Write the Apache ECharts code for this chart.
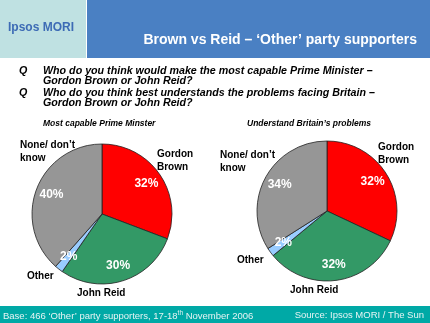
<!DOCTYPE html>
<html><head><meta charset="utf-8">
<style>html,body{margin:0;padding:0;background:#fff}#c{width:430px;height:323px}</style>
<script src="https://cdn.jsdelivr.net/npm/echarts@6/dist/echarts.min.js"></script>
</head><body><div id="c"></div>
<script>
const categories = ['Gordon Brown', 'John Reid', 'Other', 'None/ don\u2019t know'];
const capableValues = [32, 30, 2, 40];
const understandValues = [32, 32, 2, 34];
const sliceColors = ['#FF0000', '#339966', '#99CCFF', '#969696'];

const chart = echarts.init(document.getElementById('c'), null, {renderer: 'canvas'});
const FONT = '"Liberation Sans", Arial, sans-serif';

function mkData(vals) {
  return categories.map((n, i) => ({name: n, value: vals[i], itemStyle: {color: sliceColors[i]}}));
}
function pieMain(vals, center) {
  return {
    type: 'pie', center: center, radius: 70, startAngle: 90, clockwise: true,
    silent: true, animation: false,
    itemStyle: {borderColor: '#222', borderWidth: 0.8},
    label: {show: false}, labelLine: {show: false},
    data: mkData(vals), z: 2
  };
}
function pieLabels(vals, center) {
  return {
    type: 'pie', center: center, radius: 102, startAngle: 90, clockwise: true,
    silent: true, animation: false,
    itemStyle: {color: 'rgba(0,0,0,0)', borderWidth: 0},
    label: {show: true, position: 'inside', formatter: '{c}%', color: '#fff',
            fontFamily: FONT, fontWeight: 'bold', fontSize: 12},
    labelLine: {show: false},
    data: categories.map((n, i) => ({name: n, value: vals[i]})), z: 3
  };
}
function t(x, y, text, style) {
  return {type: 'text', x: x, y: y, style: Object.assign({text: text, fontFamily: FONT}, style), z: 10};
}
const outerStyle = {fill: '#000', fontWeight: 'bold', fontSize: 10, lineHeight: 12.5};
const qStyle = {fill: '#000', fontWeight: 'bold', fontStyle: 'italic', fontSize: 10.7, lineHeight: 10};

chart.setOption({
  animation: false,
  series: [
    pieMain(capableValues, [102, 214]), pieLabels(capableValues, [102, 214]),
    pieMain(understandValues, [327, 211]), pieLabels(understandValues, [327, 211])
  ],
  graphic: [
    {type: 'rect', shape: {x: 0, y: 0, width: 86, height: 58}, style: {fill: '#BFE1E2'}},
    {type: 'rect', shape: {x: 87, y: 0, width: 343, height: 58}, style: {fill: '#4A80C3'}},
    t(8, 22, 'Ipsos MORI', {fill: '#3D6BB5', fontWeight: 'bold', fontSize: 12}),
    t(417, 33, 'Brown vs Reid \u2013 \u2018Other\u2019 party supporters', {fill: '#fff', fontWeight: 'bold', fontSize: 14, textAlign: 'right'}),
    t(19, 66, 'Q', qStyle),
    t(43, 66, 'Who do you think would make the most capable Prime Minister \u2013\nGordon Brown or John Reid?', qStyle),
    t(19, 88, 'Q', qStyle),
    t(43, 88, 'Who do you think best understands the problems facing Britain \u2013\nGordon Brown or John Reid?', qStyle),
    t(43, 119, 'Most capable Prime Minster', {fill: '#000', fontWeight: 'bold', fontStyle: 'italic', fontSize: 8.5}),
    t(247, 119, 'Understand Britain\u2019s problems', {fill: '#000', fontWeight: 'bold', fontStyle: 'italic', fontSize: 8.5}),
    // left pie outer labels
    t(157, 148, 'Gordon\nBrown', outerStyle),
    t(20, 139, 'None/ don\u2019t\nknow', outerStyle),
    t(27, 270, 'Other', outerStyle),
    t(77, 287, 'John Reid', outerStyle),
    // right pie outer labels
    t(378, 141, 'Gordon\nBrown', outerStyle),
    t(220, 149, 'None/ don\u2019t\nknow', outerStyle),
    t(237, 254, 'Other', outerStyle),
    t(290, 284, 'John Reid', outerStyle),
    {type: 'rect', shape: {x: 0, y: 306, width: 430, height: 17}, style: {fill: '#00A9A6'}, z: 5},
    {type: 'text', x: 3, y: 310, z: 10, style: {
      text: '{a|Base: 466 \u2018Other\u2019 party supporters, 17-18}{s|th}{a| November 2006}',
      rich: {a: {fill: '#E6F4F4', fontFamily: FONT, fontSize: 9.5},
             s: {fill: '#E6F4F4', fontFamily: FONT, fontSize: 6.5, verticalAlign: 'top', padding: [0,0,5,0]}}}},
    t(424, 310, 'Source: Ipsos MORI / The Sun', {fill: '#E6F4F4', fontSize: 9.5, textAlign: 'right'})
  ]
});
</script></body></html>
